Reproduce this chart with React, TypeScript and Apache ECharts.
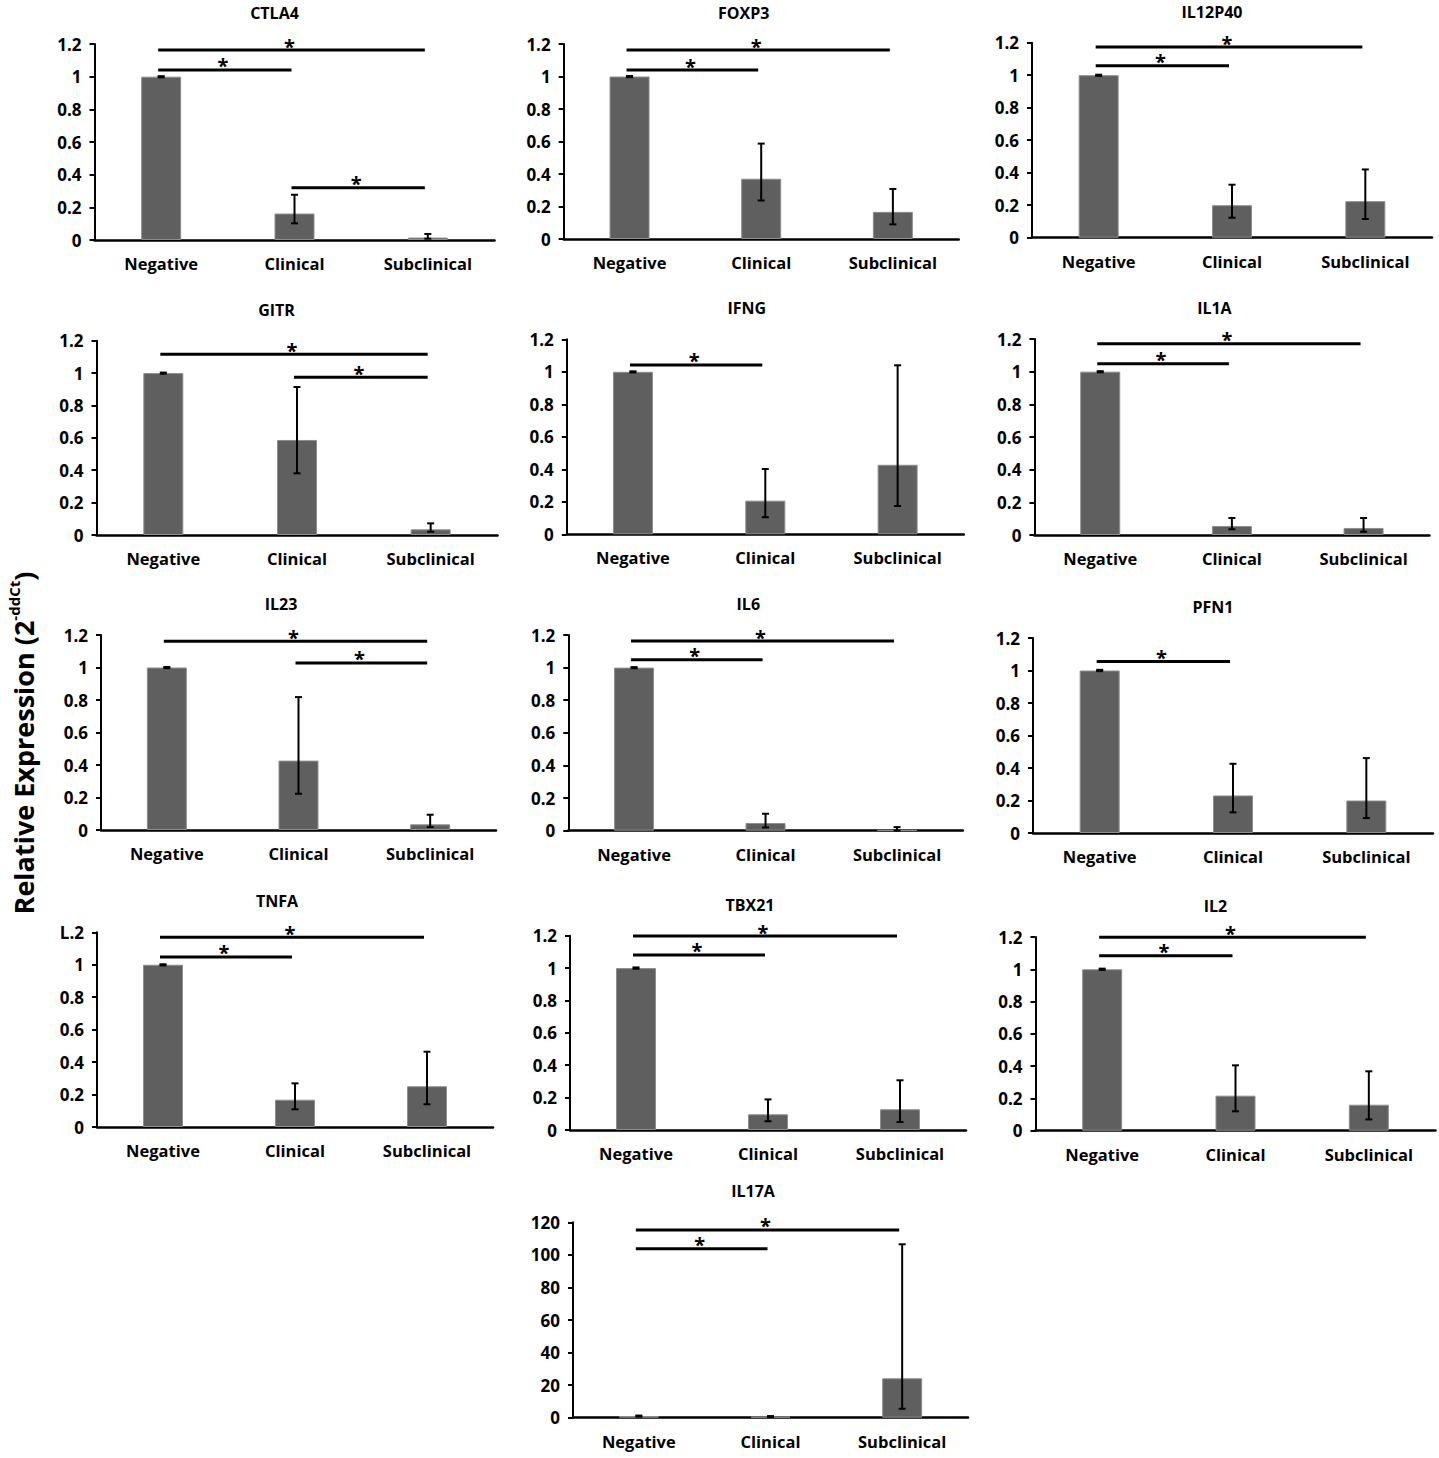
import React, { useEffect, useRef } from "react";
import * as echarts from "echarts";

// ---------- DATA ----------
const categories = ["Negative", "Clinical", "Subclinical"];
const genes = ["CTLA4", "FOXP3", "IL12P40", "GITR", "IFNG", "IL1A", "IL23", "IL6", "PFN1", "TNFA", "TBX21", "IL2", "IL17A"];
const yAxisTitle = "Relative Expression (2";
const yAxisTitleSup = "-ddCt";
const relMax = 1.2;
const relStep = 0.2;
const il17aMax = 120;
const il17aStep = 20;
const tnfaTopTickLabel = "L.2";

// means, error ranges [low, high], significance bars [fromCat, toCat, y]
const ctla4Mean = [1, 0.162, 0.015];
const ctla4Err = [[0.996, 1.003], [0.102, 0.277], [0.008, 0.037]];
const ctla4Sig = [[0, 2, 1.163], [0, 1, 1.041], [1, 2, 0.32]];

const foxp3Mean = [1, 0.371, 0.167];
const foxp3Err = [[0.996, 1.003], [0.237, 0.587], [0.09, 0.308]];
const foxp3Sig = [[0, 2, 1.163], [0, 1, 1.04]];

const il12p40Mean = [1, 0.2, 0.225];
const il12p40Err = [[0.996, 1.003], [0.123, 0.326], [0.115, 0.42]];
const il12p40Sig = [[0, 2, 1.173], [0, 1, 1.058]];

const gitrMean = [1, 0.587, 0.035];
const gitrErr = [[0.996, 1.003], [0.381, 0.914], [0.02, 0.072]];
const gitrSig = [[0, 2, 1.116], [1, 2, 0.974]];

const ifngMean = [1, 0.207, 0.428];
const ifngErr = [[0.996, 1.003], [0.105, 0.402], [0.174, 1.04]];
const ifngSig = [[0, 1, 1.042]];

const il1aMean = [1, 0.055, 0.043];
const il1aErr = [[0.996, 1.003], [0.035, 0.104], [0.02, 0.104]];
const il1aSig = [[0, 2, 1.171], [0, 1, 1.049]];

const il23Mean = [1, 0.427, 0.035];
const il23Err = [[0.996, 1.003], [0.223, 0.818], [0.018, 0.094]];
const il23Sig = [[0, 2, 1.161], [1, 2, 1.028]];

const il6Mean = [1, 0.047, 0.004];
const il6Err = [[0.996, 1.003], [0.02, 0.104], [0.001, 0.022]];
const il6Sig = [[0, 2, 1.163], [0, 1, 1.049]];

const pfn1Mean = [1, 0.231, 0.2];
const pfn1Err = [[0.996, 1.004], [0.127, 0.426], [0.092, 0.461]];
const pfn1Sig = [[0, 1, 1.056]];

const tnfaMean = [1, 0.168, 0.251];
const tnfaErr = [[0.996, 1.003], [0.109, 0.269], [0.14, 0.464]];
const tnfaSig = [[0, 2, 1.169], [0, 1, 1.048]];

const tbx21Mean = [1, 0.097, 0.128];
const tbx21Err = [[0.996, 1.004], [0.054, 0.189], [0.049, 0.307]];
const tbx21Sig = [[0, 2, 1.198], [0, 1, 1.081]];

const il2Mean = [1, 0.217, 0.161];
const il2Err = [[0.996, 1.004], [0.12, 0.405], [0.07, 0.368]];
const il2Sig = [[0, 2, 1.198], [0, 1, 1.084]];

const il17aMean = [1, 0.7, 24.2];
const il17aErr = [[0.6, 1.3], [0.4, 1.0], [5.5, 106.5]];
const il17aSig = [[0, 2, 115.3], [0, 1, 103.8]];

const panelData = [
  { mean: ctla4Mean, err: ctla4Err, sig: ctla4Sig, max: relMax, step: relStep },
  { mean: foxp3Mean, err: foxp3Err, sig: foxp3Sig, max: relMax, step: relStep },
  { mean: il12p40Mean, err: il12p40Err, sig: il12p40Sig, max: relMax, step: relStep },
  { mean: gitrMean, err: gitrErr, sig: gitrSig, max: relMax, step: relStep },
  { mean: ifngMean, err: ifngErr, sig: ifngSig, max: relMax, step: relStep },
  { mean: il1aMean, err: il1aErr, sig: il1aSig, max: relMax, step: relStep },
  { mean: il23Mean, err: il23Err, sig: il23Sig, max: relMax, step: relStep },
  { mean: il6Mean, err: il6Err, sig: il6Sig, max: relMax, step: relStep },
  { mean: pfn1Mean, err: pfn1Err, sig: pfn1Sig, max: relMax, step: relStep },
  { mean: tnfaMean, err: tnfaErr, sig: tnfaSig, max: relMax, step: relStep },
  { mean: tbx21Mean, err: tbx21Err, sig: tbx21Sig, max: relMax, step: relStep },
  { mean: il2Mean, err: il2Err, sig: il2Sig, max: relMax, step: relStep },
  { mean: il17aMean, err: il17aErr, sig: il17aSig, max: il17aMax, step: il17aStep },
];

// ---------- LAYOUT (pixels) ----------
// l: y-axis x, w: plot width, t: top tick y, b: zero y
const layout = [
  { l: 94.5, w: 400, t: 44, b: 240 },
  { l: 563.7, w: 395, t: 44, b: 239 },
  { l: 1032, w: 400, t: 42.7, b: 237.7 },
  { l: 96.5, w: 401, t: 340.7, b: 535 },
  { l: 566.8, w: 397, t: 339.3, b: 534.3 },
  { l: 1034.4, w: 395, t: 339, b: 535 },
  { l: 101, w: 395, t: 635, b: 830 },
  { l: 568.3, w: 394.5, t: 635, b: 830.7 },
  { l: 1033, w: 400, t: 638, b: 833 },
  { l: 97, w: 396, t: 932.3, b: 1127 },
  { l: 570, w: 396, t: 935.7, b: 1130 },
  { l: 1035.5, w: 400, t: 937, b: 1130.7 },
  { l: 573, w: 395, t: 1222.3, b: 1417.7 },
];

const FONT = "'Open Sans', 'DejaVu Sans', sans-serif";
const BAR_COLOR = "#5f5f5f";

function buildOption() {
  const grid: any[] = [];
  const xAxis: any[] = [];
  const yAxis: any[] = [];
  const series: any[] = [];
  const graphics: any[] = [];

  panelData.forEach((p, i) => {
    const L = layout[i];
    grid.push({ left: L.l, top: L.t, width: L.w, height: L.b - L.t, containLabel: false });
    xAxis.push({
      type: "category",
      gridIndex: i,
      data: categories,
      axisLine: { show: true, lineStyle: { color: "#000", width: 2.5 } },
      axisTick: { show: false },
      splitLine: { show: false },
      axisLabel: { color: "#000", fontSize: 16.5, fontWeight: "bold", fontFamily: FONT, margin: 15 },
    });
    const isTnfa = genes[i] === "TNFA";
    yAxis.push({
      type: "value",
      gridIndex: i,
      min: 0,
      max: p.max,
      interval: p.step,
      axisLine: { show: true, lineStyle: { color: "#000", width: 2 } },
      axisTick: { show: true, length: 5, inside: false, lineStyle: { color: "#000", width: 2 } },
      splitLine: { show: false },
      axisLabel: {
        color: "#000",
        fontSize: 17,
        fontWeight: "bold",
        fontFamily: FONT,
        margin: 13,
        formatter: (v: number) => {
          const r = Math.round(v * 10) / 10;
          if (isTnfa && Math.abs(r - 1.2) < 1e-9) return tnfaTopTickLabel;
          return String(r);
        },
      },
    });
    series.push({
      type: "bar",
      xAxisIndex: i,
      yAxisIndex: i,
      data: p.mean,
      barWidth: 40,
      silent: true,
      itemStyle: { color: BAR_COLOR, borderColor: "#8e8e8e", borderWidth: 1 },
    });
    series.push({
      type: "custom",
      xAxisIndex: i,
      yAxisIndex: i,
      silent: true,
      encode: { x: 0, y: [1, 2] },
      data: p.err.map((e, k) => [k, e[0], e[1]]),
      renderItem: (params: any, api: any) => {
        const xi = api.value(0);
        const lo = api.coord([xi, api.value(1)]);
        const hi = api.coord([xi, api.value(2)]);
        const cx = lo[0];
        const cap = 3.5;
        const st = { stroke: "#000", lineWidth: 2 };
        return {
          type: "group",
          children: [
            { type: "line", shape: { x1: cx, y1: lo[1], x2: cx, y2: hi[1] }, style: st },
            { type: "line", shape: { x1: cx - cap, y1: hi[1], x2: cx + cap, y2: hi[1] }, style: st },
            { type: "line", shape: { x1: cx - cap, y1: lo[1], x2: cx + cap, y2: lo[1] }, style: st },
          ],
        };
      },
      z: 3,
    });
    series.push({
      type: "custom",
      xAxisIndex: i,
      yAxisIndex: i,
      silent: true,
      encode: { x: [0, 1], y: 2 },
      data: p.sig,
      renderItem: (params: any, api: any) => {
        const p1 = api.coord([api.value(0), api.value(2)]);
        const p2 = api.coord([api.value(1), api.value(2)]);
        const x1 = p1[0] - 3;
        const x2 = p2[0] - 3;
        const y = p1[1];
        return {
          type: "group",
          children: [
            { type: "line", shape: { x1, y1: y, x2, y2: y }, style: { stroke: "#000", lineWidth: 3 } },
            {
              type: "text",
              x: (x1 + x2) / 2 - 2,
              y: y - 4,
              style: {
                text: "*",
                fill: "#000",
                fontSize: 20,
                fontWeight: "bold",
                fontFamily: FONT,
                align: "center",
                verticalAlign: "middle",
              },
            },
          ],
        };
      },
      z: 4,
    });
    graphics.push({
      type: "text",
      x: L.l + 180,
      y: L.t - 31,
      style: {
        text: genes[i],
        fill: "#000",
        fontSize: 16,
        fontWeight: "bold",
        fontFamily: FONT,
        align: "center",
        verticalAlign: "middle",
      },
    });
  });

  graphics.push({
    type: "text",
    x: 23,
    y: 743,
    rotation: Math.PI / 2,
    style: {
      text: `{a|${yAxisTitle}}{b|${yAxisTitleSup}}{a|)}`,
      align: "center",
      verticalAlign: "middle",
      rich: {
        a: { fontSize: 27, fontWeight: "bold", fontFamily: FONT, fill: "#000", lineHeight: 34 },
        b: { fontSize: 15, fontWeight: "bold", fontFamily: FONT, fill: "#000", lineHeight: 34, verticalAlign: "top" },
      },
    },
  });

  return {
    animation: false,
    backgroundColor: "#fff",
    grid,
    xAxis,
    yAxis,
    series,
    graphic: { elements: graphics },
  };
}

export default function App() {
  const ref = useRef<HTMLDivElement>(null);
  useEffect(() => {
    if (!ref.current) return;
    const chart = echarts.init(ref.current, null, { renderer: "svg" });
    chart.setOption(buildOption() as any);
    return () => chart.dispose();
  }, []);
  return (
    <div
      ref={ref}
      style={{ position: "absolute", left: 0, top: 0, width: 1439, height: 1458, background: "#fff" }}
    />
  );
}
